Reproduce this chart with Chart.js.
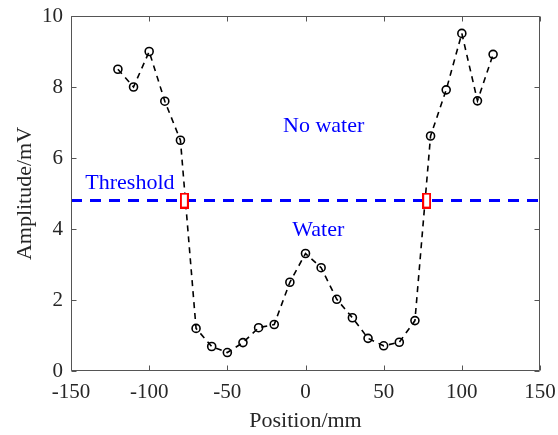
<!DOCTYPE html>
<html>
<head>
<meta charset="utf-8">
<script src="https://cdn.jsdelivr.net/npm/chart.js@4.4.1/dist/chart.umd.min.js"></script>
<style>
  html,body{margin:0;padding:0;background:#fff;}
  #wrap{width:558px;height:435px;position:relative;}
</style>
</head>
<body>
<div id="wrap"><canvas id="c" width="558" height="435"></canvas></div>
<script>
// ---- data ----
const positions = [-120,-110,-100,-90,-80,-70,-60,-50,-40,-30,-20,-10,0,10,20,30,40,50,60,70,80,90,100,110,120];
const amplitudes = [8.5,8.0,9.0,7.6,6.5,1.2,0.69,0.52,0.8,1.22,1.31,2.5,3.31,2.91,2.02,1.5,0.92,0.71,0.81,1.42,6.62,7.92,9.51,7.61,8.92];
const threshold = 4.8;
const crossingX = [-77.5, 77.5];
const xTicks = [-150,-100,-50,0,50,100,150];
const yTicks = [0,2,4,6,8,10];
const annoText = ['Threshold','No water','Water'];
const annoX = [-112.3, 11.6, 8.2];
const annoY = [5.3, 6.9, 3.97];
const xTitle = 'Position/mm';
const yTitle = 'Amplitude/mV';

const FONT = '"Liberation Serif", "Times New Roman", serif';

// red rectangle marker
const rectMarker = document.createElement('canvas');
rectMarker.width = 9; rectMarker.height = 16;
(function(){
  const g = rectMarker.getContext('2d');
  g.fillStyle = '#fff';
  g.fillRect(1,1,7,14);
  g.strokeStyle = '#ff0000';
  g.lineWidth = 2;
  g.strokeRect(1,1,7,14);
})();

const framePlugin = {
  id: 'frame',
  afterDatasetsDraw(chart) {
    const {ctx, chartArea: a, scales: {x, y}} = chart;
    ctx.save();
    // annotations
    ctx.fillStyle = '#0000ff';
    ctx.font = '22px ' + FONT;
    ctx.textBaseline = 'middle';
    ctx.textAlign = 'center';
    for (let i = 0; i < annoText.length; i++) {
      ctx.fillText(annoText[i], x.getPixelForValue(annoX[i]), y.getPixelForValue(annoY[i]));
    }
    // frame
    ctx.strokeStyle = '#555555';
    ctx.lineWidth = 1;
    const L = Math.round(a.left) + 0.5, R = Math.round(a.right) - 0.5;
    const T = Math.round(a.top) + 0.5, B = Math.round(a.bottom) - 0.5;
    ctx.beginPath();
    ctx.rect(L, T, R - L, B - T);
    const tl = 5;
    xTicks.forEach(v => {
      const px = Math.round(x.getPixelForValue(v)) + 0.5;
      ctx.moveTo(px, B); ctx.lineTo(px, B - tl);
      ctx.moveTo(px, T); ctx.lineTo(px, T + tl);
    });
    yTicks.forEach(v => {
      const py = Math.round(y.getPixelForValue(v)) + 0.5;
      ctx.moveTo(L, py); ctx.lineTo(L + tl, py);
      ctx.moveTo(R, py); ctx.lineTo(R - tl, py);
    });
    ctx.stroke();
    // axis titles
    ctx.fillStyle = '#262626';
    ctx.font = '22px ' + FONT;
    ctx.textAlign = 'center';
    ctx.textBaseline = 'middle';
    ctx.fillText(xTitle, (a.left + a.right) / 2, 421);
    ctx.translate(25, (a.top + a.bottom) / 2);
    ctx.rotate(-Math.PI / 2);
    ctx.fillText(yTitle, 0, 0);
    ctx.restore();
  }
};

new Chart(document.getElementById('c'), {
  type: 'scatter',
  data: {
    datasets: [
      {
        data: crossingX.map(v => ({x: v, y: threshold})),
        pointStyle: rectMarker,
        pointRadius: 8,
        showLine: false
      },
      {
        data: positions.map((p, i) => ({x: p, y: amplitudes[i]})),
        showLine: true,
        borderColor: '#000000',
        borderWidth: 1.6,
        borderDash: [6, 5],
        pointStyle: 'circle',
        pointRadius: 4,
        pointBorderWidth: 1.6,
        pointBorderColor: '#000000',
        pointBackgroundColor: 'rgba(0,0,0,0)',
        tension: 0
      },
      {
        data: [{x: xTicks[0], y: threshold}, {x: xTicks[xTicks.length - 1], y: threshold}],
        showLine: true,
        borderColor: '#0000ff',
        borderWidth: 3,
        borderDash: [11, 8],
        pointRadius: 0
      }
    ]
  },
  options: {
    responsive: false,
    animation: false,
    events: [],
    layout: {padding: {top: 16, right: 18, left: 0, bottom: 0}},
    plugins: {legend: {display: false}, tooltip: {enabled: false}},
    scales: {
      x: {
        type: 'linear',
        min: -150, max: 150,
        afterBuildTicks: s => { s.ticks = xTicks.map(v => ({value: v})); },
        afterFit: s => { s.height = 64; s.paddingLeft = 0; s.paddingRight = 0; },
        grid: {display: false, drawTicks: false},
        border: {display: false},
        ticks: {color: '#262626', font: {family: FONT, size: 21}, padding: 9, maxRotation: 0, autoSkip: false}
      },
      y: {
        type: 'linear',
        min: 0, max: 10,
        afterBuildTicks: s => { s.ticks = yTicks.map(v => ({value: v})); },
        afterFit: s => { s.width = 71; s.paddingTop = 0; s.paddingBottom = 0; },
        grid: {display: false, drawTicks: false},
        border: {display: false},
        ticks: {color: '#262626', font: {family: FONT, size: 21}, padding: 8, autoSkip: false}
      }
    }
  },
  plugins: [framePlugin]
});
</script>
</body>
</html>
